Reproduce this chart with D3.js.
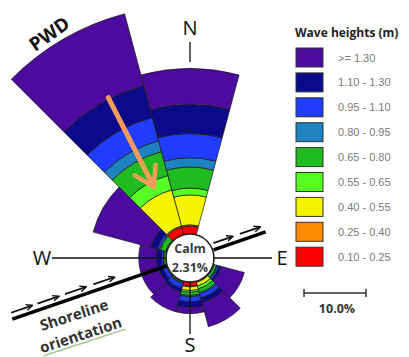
<!DOCTYPE html>
<html>
<head>
<meta charset="utf-8">
<script src="https://cdn.jsdelivr.net/npm/d3@7/dist/d3.min.js"></script>
<style>
body { margin: 0; background: #fff; }
svg { display: block; font-family: 'Open Sans', 'Liberation Sans', sans-serif; }
</style>
</head>
<body>
<div id="chart"></div>
<script>
// sector centres, degrees clockwise from north (30 degree bins)
const directions = [0, 30, 60, 90, 120, 150, 180, 210, 240, 270, 300, 330];

// frequency (%) per wave height class, one value per direction
const h010_025 = [1.3, 0, 0, 0, 0,   0.1, 0.7, 0,   0,   0,   0,   1.3];
const h025_040 = [0.2, 0, 0, 0, 0,   0.1, 0.1, 0,   0,   0,   0,   0.2];
const h040_055 = [4.8, 0, 0, 0, 0,   0.6, 0.6, 0,   0,   0,   0,   6.0];
const h055_065 = [1.1, 0, 0, 0, 0.2, 0.5, 0.3, 0.1, 0,   0,   0.2, 2.4];
const h065_080 = [3.4, 0, 0, 0, 0.4, 0.6, 0.5, 0.2, 0.1, 0.4, 0.9, 4.0];
const h080_095 = [1.5, 0, 0, 0, 0.1, 0.2, 0.2, 0.1, 0.1, 0.1, 0.2, 1.8];
const h095_110 = [3.9, 0, 0, 0, 0.3, 0.7, 0.8, 0.8, 0.6, 0.3, 0.3, 3.9];
const h110_130 = [4.7, 0, 0, 0, 0.4, 0.8, 0.9, 0.6, 0.7, 0.8, 1.1, 5.3];
const h130_up  = [5.8, 0, 0, 0, 3.8, 4.0, 1.0, 3.3, 2.9, 2.8, 9.6, 12.0];

const classKeys = ['c1', 'c2', 'c3', 'c4', 'c5', 'c6', 'c7', 'c8', 'c9'];
const classLabels = ['0.10 - 0.25', '0.25 - 0.40', '0.40 - 0.55', '0.55 - 0.65', '0.65 - 0.80',
                     '0.80 - 0.95', '0.95 - 1.10', '1.10 - 1.30', '>= 1.30'];
const classColors = ['#ff0000', '#ff8c00', '#f4f400', '#55ff22', '#20bb20',
                     '#1e82c0', '#1f3cff', '#0a0a8a', '#4d0a9e'];
const calmText = ['Calm', '2.31%'];
const scaleValue = 10;

const width = 409, height = 357;
const cx = 190, cy = 258;
const calmR = 24;

const series = [h010_025, h025_040, h040_055, h055_065, h065_080, h080_095, h095_110, h110_130, h130_up];
const table = directions.map((dir, i) => {
  const row = { dir: dir };
  classKeys.forEach((k, j) => row[k] = series[j][i]);
  return row;
});

const svg = d3.select('#chart').append('svg')
  .attr('width', width)
  .attr('height', height);

// radial scale: percent -> pixels, starting at the calm circle
const r = d3.scaleLinear().domain([0, scaleValue]).range([calmR, calmR + 62]);
const color = d3.scaleOrdinal().domain(classKeys).range(classColors);
const rad = a => a * Math.PI / 180;
const pt = (bearing, dist) => [cx + dist * Math.sin(rad(bearing)), cy - dist * Math.cos(rad(bearing))];

const stacked = d3.stack().keys(classKeys)(table);

const arc = d3.arc()
  .innerRadius(d => r(d[0]))
  .outerRadius(d => r(d[1]))
  .startAngle(d => rad(d.data.dir - 15))
  .endAngle(d => rad(d.data.dir + 15));

const rose = svg.append('g')
  .attr('class', 'rose')
  .attr('transform', `translate(${cx}, ${cy})`);

rose.selectAll('g')
  .data(stacked)
  .enter()
  .append('g')
  .attr('fill', d => color(d.key))
  .selectAll('path')
  .data(d => d.filter(s => s[1] - s[0] > 0))
  .enter()
  .append('path')
  .attr('d', arc)
  .attr('stroke', '#1a1a1a')
  .attr('stroke-width', 0.7);

// compass axes
const axes = [
  { b: 0, r0: 196, r1: 216, lr: 230, label: 'N' },
  { b: 90, r0: calmR, r1: 82, lr: 92, label: 'E' },
  { b: 180, r0: calmR, r1: 76, lr: 87, label: 'S' },
  { b: 270, r0: calmR, r1: 138, lr: 148, label: 'W' }
];
svg.selectAll('.axis')
  .data(axes)
  .enter()
  .append('line')
  .attr('class', 'axis')
  .attr('x1', d => pt(d.b, d.r0)[0])
  .attr('y1', d => pt(d.b, d.r0)[1])
  .attr('x2', d => pt(d.b, d.r1)[0])
  .attr('y2', d => pt(d.b, d.r1)[1])
  .attr('stroke', '#111')
  .attr('stroke-width', 1.3);

svg.selectAll('.compass')
  .data(axes)
  .enter()
  .append('text')
  .attr('class', 'compass')
  .attr('x', d => pt(d.b, d.lr)[0])
  .attr('y', d => pt(d.b, d.lr)[1])
  .attr('dy', '0.36em')
  .attr('text-anchor', 'middle')
  .attr('font-size', 20)
  .attr('fill', '#111')
  .text(d => d.label);

// shoreline
const defs = svg.append('defs');
defs.append('marker')
  .attr('id', 'head')
  .attr('viewBox', '0 0 10 10')
  .attr('refX', 8).attr('refY', 5)
  .attr('markerWidth', 4).attr('markerHeight', 4)
  .attr('orient', 'auto')
  .append('path')
  .attr('d', 'M0,1 L9,5 L0,9')
  .attr('fill', 'none')
  .attr('stroke', '#111')
  .attr('stroke-width', 2);

const shoreBearing = 71;
const shore = svg.append('g').attr('class', 'shore');
[[shoreBearing + 180, 25, 188], [shoreBearing, 25, 80]].forEach(s => {
  const a = pt(s[0], s[1]), b = pt(s[0], s[2]);
  shore.append('line')
    .attr('x1', a[0]).attr('y1', a[1])
    .attr('x2', b[0]).attr('y2', b[1])
    .attr('stroke', '#000')
    .attr('stroke-width', 3.5);
});
// small arrows along the shoreline (signed distance from centre)
const shoreArrows = [[-187, -165], [-159, -137], [-130, -108], [-100, -78], [27, 47], [55, 76]];
const off = [-0.326 * 6.5, -0.946 * 6.5];
shore.selectAll('.sa')
  .data(shoreArrows)
  .enter()
  .append('line')
  .attr('class', 'sa')
  .attr('x1', d => pt(shoreBearing, d[0])[0] + off[0])
  .attr('y1', d => pt(shoreBearing, d[0])[1] + off[1])
  .attr('x2', d => pt(shoreBearing, d[1])[0] + off[0])
  .attr('y2', d => pt(shoreBearing, d[1])[1] + off[1])
  .attr('stroke', '#111')
  .attr('stroke-width', 1.8)
  .attr('marker-end', 'url(#head)');

const shoreText = svg.append('g')
  .attr('transform', 'translate(42, 331) rotate(-18)')
  .attr('font-size', 15)
  .attr('font-weight', 'bold')
  .attr('fill', '#333');
shoreText.append('text').attr('x', 0).attr('y', 0).text('Shoreline');
shoreText.append('line')
  .attr('x1', -6).attr('x2', 80).attr('y1', 24).attr('y2', 24)
  .attr('stroke', '#9cc98c').attr('stroke-width', 1.5);
shoreText.append('text').attr('x', -7).attr('y', 21).text('orientation');

// calm circle
svg.append('circle')
  .attr('cx', cx).attr('cy', cy).attr('r', calmR)
  .attr('fill', '#fff')
  .attr('stroke', '#222')
  .attr('stroke-width', 1.6);
svg.selectAll('.calm')
  .data(calmText)
  .enter()
  .append('text')
  .attr('class', 'calm')
  .attr('x', cx)
  .attr('y', (d, i) => cy - 5 + i * 19)
  .attr('text-anchor', 'middle')
  .attr('font-size', 12.5)
  .attr('font-weight', 'bold')
  .attr('fill', '#3a3a3a')
  .text(d => d);

// prevailing wave direction arrow
const pwdBearing = 333;
const a0 = pt(pwdBearing, 180), a1 = pt(pwdBearing, 80);
svg.append('line')
  .attr('x1', a0[0]).attr('y1', a0[1])
  .attr('x2', a1[0]).attr('y2', a1[1])
  .attr('stroke', '#f39c5a')
  .attr('stroke-width', 5)
  .attr('stroke-linecap', 'round');
[-32, 32].forEach(w => {
  const back = rad(pwdBearing + w);
  svg.append('line')
    .attr('x1', a1[0]).attr('y1', a1[1])
    .attr('x2', a1[0] + 22 * Math.sin(back)).attr('y2', a1[1] - 22 * Math.cos(back))
    .attr('stroke', '#f39c5a')
    .attr('stroke-width', 4.5)
    .attr('stroke-linecap', 'round');
});
svg.append('text')
  .attr('transform', 'translate(35, 52) rotate(-35)')
  .attr('font-size', 19)
  .attr('font-weight', 'bold')
  .attr('fill', '#111')
  .text('PWD');

// legend
const legend = svg.append('g').attr('transform', 'translate(296, 0)');
legend.append('text')
  .attr('x', -1).attr('y', 37)
  .attr('font-size', 12)
  .attr('font-weight', 'bold')
  .attr('fill', '#222')
  .text('Wave heights (m)');
const items = classKeys.slice().reverse();
const rows = legend.selectAll('.item')
  .data(items)
  .enter()
  .append('g')
  .attr('class', 'item')
  .attr('transform', (d, i) => `translate(0, ${48 + i * 24.9})`);
rows.append('rect')
  .attr('width', 27).attr('height', 19)
  .attr('fill', d => color(d))
  .attr('stroke', '#333')
  .attr('stroke-width', 1);
rows.append('text')
  .attr('x', 42).attr('y', 13.5)
  .attr('font-family', 'Liberation Sans, Arial, sans-serif')
  .attr('font-size', 11)
  .attr('fill', '#7a7a7a')
  .text(d => classLabels[classKeys.indexOf(d)]);

// scale bar
const sbLen = r(scaleValue) - r(0);
const sb = svg.append('g').attr('transform', 'translate(304, 293)');
sb.append('line').attr('x1', 0).attr('x2', sbLen).attr('stroke', '#333').attr('stroke-width', 1.5);
[0, sbLen].forEach(x => sb.append('line')
  .attr('x1', x).attr('x2', x).attr('y1', -4).attr('y2', 4)
  .attr('stroke', '#333').attr('stroke-width', 1.5));
sb.append('text')
  .attr('x', sbLen / 2 + 2).attr('y', 20)
  .attr('text-anchor', 'middle')
  .attr('font-size', 12.5)
  .attr('font-weight', 'bold')
  .attr('fill', '#333')
  .text(d3.format('.1f')(scaleValue) + '%');
</script>
</body>
</html>
